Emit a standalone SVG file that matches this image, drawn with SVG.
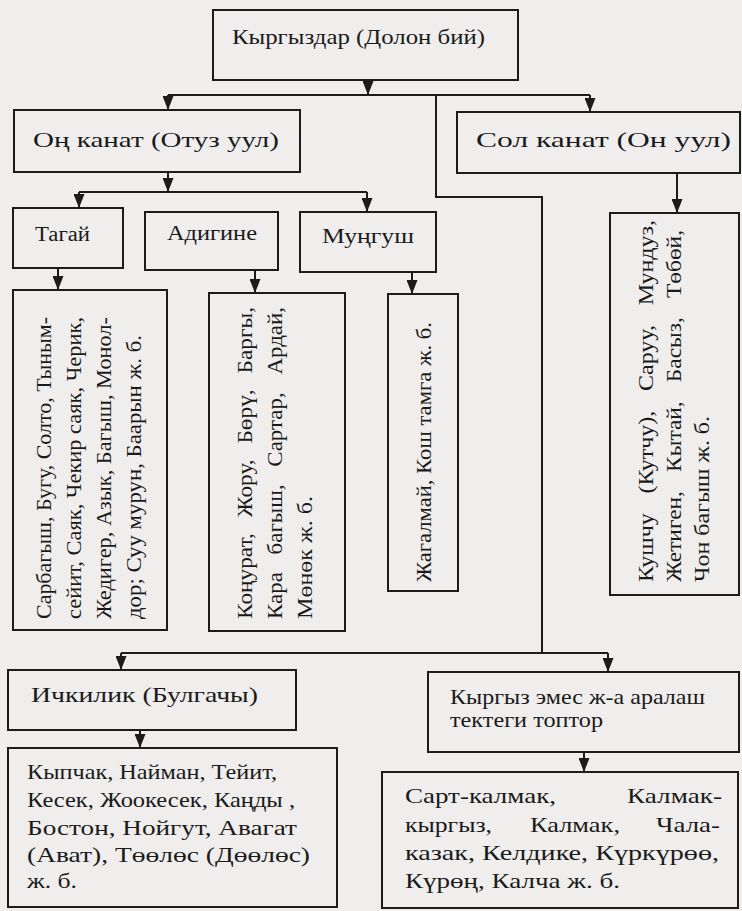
<svg xmlns="http://www.w3.org/2000/svg" width="742" height="911" viewBox="0 0 742 911">
<style>
.box{fill:none;stroke:#1c1c1c;stroke-width:2}
.ln{fill:none;stroke:#1c1c1c;stroke-width:2}
.ar{fill:none;stroke:#1c1c1c;stroke-width:2;marker-end:url(#ah)}
text{font-family:"Liberation Serif","Times New Roman",serif;fill:#1a1a1a}
.h{font-size:22px}
.m{font-size:20px}
.v{font-size:21px}
.b{font-size:21px}
</style>
<defs>
<marker id="ah" markerUnits="userSpaceOnUse" viewBox="0 0 14 11" refX="14" refY="5.5" markerWidth="14" markerHeight="11" orient="auto">
<path d="M0,0 L14,5.5 L0,11 z" fill="#1c1c1c"/>
</marker>
</defs>
<rect x="0" y="0" width="742" height="911" fill="#efeeec"/>

<g id="connectors">
<path class="ar" d="M368,80 V95"/>
<path class="ln" d="M168,95 H590"/>
<path class="ar" d="M168,95 V110"/>
<path class="ar" d="M590,95 V112"/>
<path class="ln" d="M436,95 V197 H542 V653"/>
<path class="ar" d="M168,172 V192"/>
<path class="ln" d="M79,192 H367"/>
<path class="ar" d="M79,192 V208"/>
<path class="ar" d="M367,192 V212"/>
<path class="ar" d="M58,268 V290"/>
<path class="ar" d="M255,270 V293"/>
<path class="ar" d="M412,272 V294"/>
<path class="ar" d="M677,173 V213"/>
<path class="ln" d="M121,653 H608"/>
<path class="ar" d="M121,653 V670"/>
<path class="ar" d="M608,653 V672"/>
<path class="ar" d="M140,730 V748"/>
<path class="ar" d="M584,752 V772"/>
</g>

<g id="kyrgyzdar">
<rect class="box" x="213" y="10" width="305" height="70"/>
<text class="h" x="232" y="44" textLength="253" lengthAdjust="spacingAndGlyphs">Кыргыздар (Долон бий)</text>
</g>

<g id="on-kanat">
<rect class="box" x="14" y="110" width="286" height="62"/>
<text class="h" x="33" y="147" textLength="246" lengthAdjust="spacingAndGlyphs">Оң канат (Отуз уул)</text>
</g>

<g id="sol-kanat">
<rect class="box" x="457" y="112" width="283" height="61"/>
<text class="h" x="476" y="147" textLength="255" lengthAdjust="spacingAndGlyphs">Сол канат (Он уул)</text>
</g>

<g id="tagai">
<rect class="box" x="13" y="208" width="110" height="60"/>
<text class="m" x="35" y="241" textLength="55" lengthAdjust="spacingAndGlyphs">Тагай</text>
</g>

<g id="adigine">
<rect class="box" x="145" y="212" width="133" height="58"/>
<text class="m" x="167" y="240" textLength="90" lengthAdjust="spacingAndGlyphs">Адигине</text>
</g>

<g id="mungush">
<rect class="box" x="300" y="212" width="136" height="60"/>
<text class="h" x="322" y="243" textLength="92" lengthAdjust="spacingAndGlyphs">Муңгуш</text>
</g>

<g id="tagai-list">
<rect class="box" x="13" y="290" width="154" height="340"/>
<text class="v" transform="translate(51,619) rotate(-90)" textLength="302" lengthAdjust="spacingAndGlyphs">Сарбагыш, Бугу, Солто, Тыным-</text>
<text class="v" transform="translate(81,619) rotate(-90)" textLength="302" lengthAdjust="spacingAndGlyphs">сейит, Саяк, Чекир саяк, Черик,</text>
<text class="v" transform="translate(111,619) rotate(-90)" textLength="302" lengthAdjust="spacingAndGlyphs">Жедигер, Азык, Багыш, Монол-</text>
<text class="v" transform="translate(141,619) rotate(-90)" textLength="284" lengthAdjust="spacingAndGlyphs">дор; Суу мурун, Баарын ж. б.</text>
</g>

<g id="adigine-list">
<rect class="box" x="209" y="293" width="136" height="338"/>
<text class="v" transform="translate(252,619) rotate(-90)" textLength="312" lengthAdjust="spacingAndGlyphs" style="word-spacing:9px">Коңурат, Жору, Бөрү, Баргы,</text>
<text class="v" transform="translate(282,619) rotate(-90)" textLength="312" lengthAdjust="spacingAndGlyphs" style="word-spacing:11px">Кара багыш, Сартар, Ардай,</text>
<text class="v" transform="translate(312,619) rotate(-90)" textLength="123" lengthAdjust="spacingAndGlyphs">Мөнөк ж. б.</text>
</g>

<g id="mungush-list">
<rect class="box" x="388" y="294" width="70" height="297"/>
<text class="v" transform="translate(431,582) rotate(-90)" textLength="260" lengthAdjust="spacingAndGlyphs">Жагалмай, Кош тамга ж. б.</text>
</g>

<g id="sol-list">
<rect class="box" x="610" y="213" width="129" height="382"/>
<text class="v" transform="translate(653,582) rotate(-90)" textLength="362" lengthAdjust="spacingAndGlyphs" style="word-spacing:12px">Кушчу (Кутчу), Саруу, Мундуз,</text>
<text class="v" transform="translate(681,582) rotate(-90)" textLength="352" lengthAdjust="spacingAndGlyphs" style="word-spacing:12px">Жетиген, Кытай, Басыз, Төбөй,</text>
<text class="v" transform="translate(709,582) rotate(-90)" textLength="166" lengthAdjust="spacingAndGlyphs">Чон багыш ж. б.</text>
</g>

<g id="ichkilik">
<rect class="box" x="8" y="670" width="288" height="60"/>
<text class="h" x="31" y="702" textLength="227" lengthAdjust="spacingAndGlyphs">Ичкилик (Булгачы)</text>
</g>

<g id="ichkilik-list">
<rect class="box" x="8" y="748" width="329" height="159"/>
<text class="b" x="27" y="779" textLength="250" lengthAdjust="spacingAndGlyphs">Кыпчак, Найман, Тейит,</text>
<text class="b" x="27" y="807" textLength="268" lengthAdjust="spacingAndGlyphs">Кесек, Жоокесек, Каңды ,</text>
<text class="b" x="27" y="835" textLength="270" lengthAdjust="spacingAndGlyphs">Бостон, Нойгут, Авагат</text>
<text class="b" x="27" y="862" textLength="283" lengthAdjust="spacingAndGlyphs">(Ават), Төөлөс (Дөөлөс)</text>
<text class="b" x="27" y="888" textLength="50" lengthAdjust="spacingAndGlyphs">ж. б.</text>
</g>

<g id="aralash">
<rect class="box" x="428" y="672" width="311" height="80"/>
<text class="b" x="450" y="704" textLength="255" lengthAdjust="spacingAndGlyphs">Кыргыз эмес ж-а аралаш</text>
<text class="b" x="450" y="727" textLength="153" lengthAdjust="spacingAndGlyphs">тектеги топтор</text>
</g>

<g id="aralash-list">
<rect class="box" x="382" y="772" width="356" height="136"/>
<text class="b" x="405" y="803" textLength="151" lengthAdjust="spacingAndGlyphs">Сарт-калмак,</text>
<text class="b" x="627" y="803" textLength="95" lengthAdjust="spacingAndGlyphs">Калмак-</text>
<text class="b" x="405" y="832" textLength="87" lengthAdjust="spacingAndGlyphs">кыргыз,</text>
<text class="b" x="530" y="832" textLength="90" lengthAdjust="spacingAndGlyphs">Калмак,</text>
<text class="b" x="656" y="832" textLength="64" lengthAdjust="spacingAndGlyphs">Чала-</text>
<text class="b" x="405" y="860" textLength="314" lengthAdjust="spacingAndGlyphs">казак, Келдике, Күркүрөө,</text>
<text class="b" x="405" y="888" textLength="215" lengthAdjust="spacingAndGlyphs">Күрөң, Калча ж. б.</text>
</g>
</svg>
